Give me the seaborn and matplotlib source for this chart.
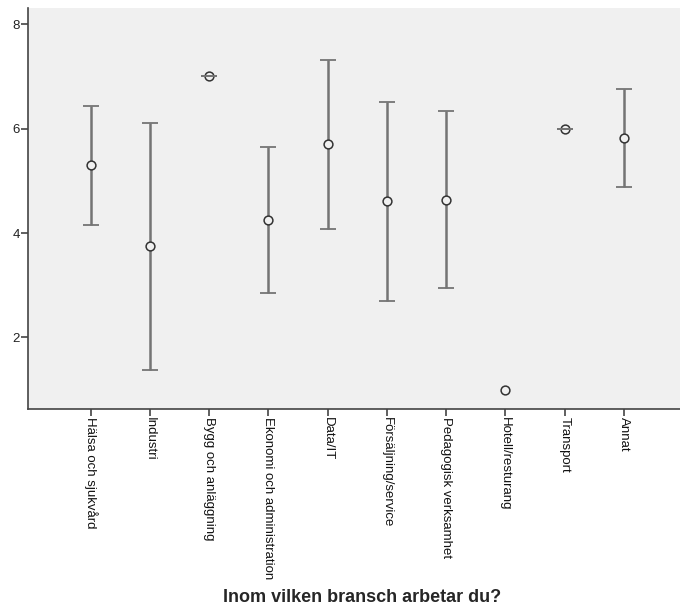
import numpy as np
import pandas as pd
import seaborn as sns
import matplotlib.pyplot as plt

# mean and 95% CI per industry
categories = ['Hälsa och sjukvård', 'Industri', 'Bygg och anläggning',
              'Ekonomi och administration', 'Data/IT', 'Försäljning/service',
              'Pedagogisk verksamhet', 'Hotell/resturang', 'Transport', 'Annat']
means = [5.31, 3.75, 7.0, 4.25, 5.70, 4.61, 4.64, 1.0, 6.0, 5.82]
lower = [4.16, 1.37, 7.0, 2.86, 4.08, 2.69, 2.94, np.nan, 6.0, 4.89]
upper = [6.44, 6.10, 7.0, 5.64, 7.31, 6.51, 6.34, np.nan, 6.0, 6.75]
yticks = [2, 4, 6, 8]

df = pd.DataFrame({'bransch': categories, 'medel': means,
                   'lag': lower, 'hog': upper})

sns.set_style('white')
plt.rcParams['font.family'] = ['Liberation Sans', 'DejaVu Sans']

fig = plt.figure(figsize=(6.8, 6.14), dpi=100)
ax = fig.add_axes([28 / 680, 205 / 614, 652 / 680, 401 / 614])
ax.set_facecolor('#f0f0f0')

bg = '#f0f0f0'
pos = np.arange(len(categories))
ok = df['lag'].notna().to_numpy()
yerr = np.vstack([df['medel'] - df['lag'], df['hog'] - df['medel']])[:, ok]

eb = ax.errorbar(pos[ok], df['medel'][ok], yerr=yerr, fmt='none',
                 ecolor='#747474', elinewidth=1.8, capsize=5.5,
                 capthick=1.3, zorder=2)
for cap in eb[1]:
    cap.set_color('#333333')
    cap.set_zorder(4)

sns.scatterplot(data=df, x='bransch', y='medel', ax=ax, marker='o', s=40,
                facecolor=bg, edgecolor='#333333', linewidth=1.1, zorder=3)

ax.set_xlim(-1.06, 9.95)
ax.set_ylim(0.63, 8.31)
ax.set_yticks(yticks)
ax.set_yticklabels([str(v) for v in yticks], fontsize=9.5, color='#222222')
ax.set_xticks(pos)
ax.set_xticklabels(categories, rotation=270, fontsize=9.5, color='#111111',
                   ha='center', va='top')
ax.tick_params(axis='both', direction='out', length=5, width=1.2,
               color='#444444', pad=1, left=True, bottom=True)

for side in ['top', 'right']:
    ax.spines[side].set_visible(False)
for side in ['left', 'bottom']:
    ax.spines[side].set_color('#444444')
    ax.spines[side].set_linewidth(1.2)

ax.set_ylabel('')
ax.set_xlabel('')
fig.text(362 / 680, 1 - 597 / 614, 'Inom vilken bransch arbetar du?',
         ha='center', va='center', fontsize=13, fontweight='bold')

fig.savefig('out.png', dpi=100, facecolor='white')
